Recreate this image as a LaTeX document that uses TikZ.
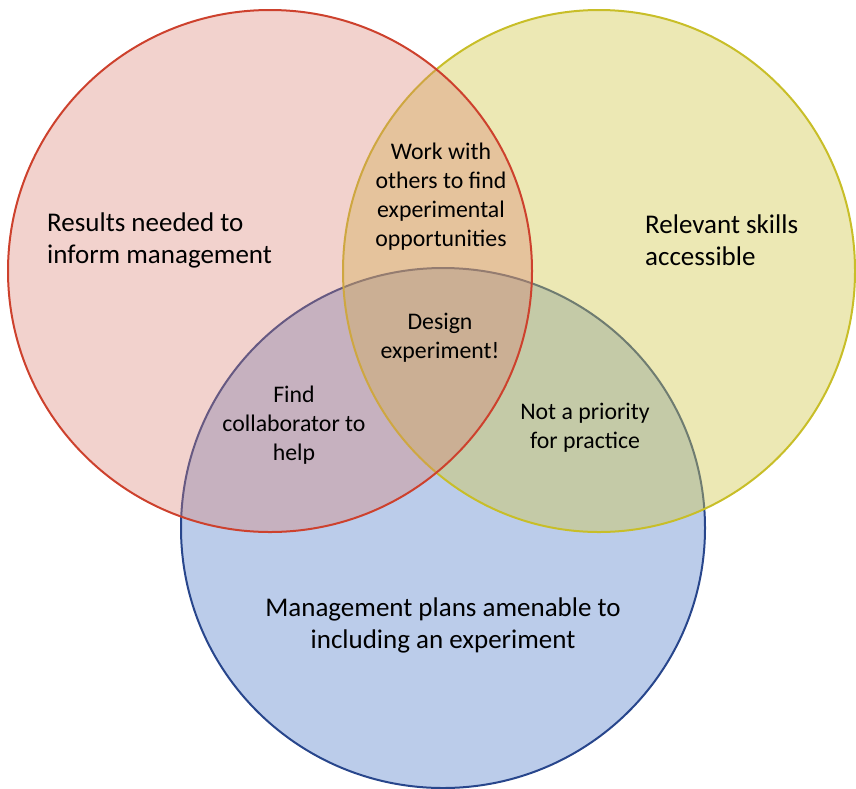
\documentclass[tikz,border=0pt]{standalone}
\usepackage{fontspec}
\setmainfont{Carlito}
\definecolor{redfill}{RGB}{218,126,112}
\definecolor{redline}{RGB}{205,65,45}
\definecolor{yellowfill}{RGB}{210,200,76}
\definecolor{yellowline}{RGB}{200,190,40}
\definecolor{bluefill}{RGB}{85,127,202}
\definecolor{blueline}{RGB}{40,70,140}
\tikzset{
  setshape/.style={line width=2pt},
  biglabel/.style={font=\fontsize{27}{32}\selectfont, inner sep=0pt},
  smalllabel/.style={font=\fontsize{23.8}{29}\selectfont, inner sep=0pt, align=center},
}
\begin{document}
\begin{tikzpicture}[x=1pt,y=-1pt]
\useasboundingbox (0,0) rectangle (856,788);
% the three sets, lowest first
\draw[setshape, fill opacity=0.4, draw=blueline, fill=bluefill] (443,528) ellipse [x radius=262pt, y radius=260pt];
\draw[setshape, fill opacity=0.42, draw=yellowline, fill=yellowfill] (599,271) ellipse [x radius=256pt, y radius=261pt];
\draw[setshape, fill opacity=0.35, draw=redline, fill=redfill] (270,271) ellipse [x radius=262pt, y radius=261pt];
% set labels
\node[biglabel, anchor=west, align=left] (results) at (47,240) {Results needed to\\inform management};
\node[biglabel, anchor=west, align=left] (skills) at (645,240) {Relevant skills\\accessible};
\node[biglabel, align=center] (plans) at (443,625) {Management plans amenable to\\including an experiment};
% overlap labels
\node[smalllabel] (work) at (441,197) {Work with\\others to find\\experimental\\opportunities};
\node[smalllabel] (design) at (440,338) {Design\\experiment!};
\node[smalllabel] (find) at (294,425) {Find\\collaborator to\\help};
\node[smalllabel] (notprio) at (585,428) {Not a priority\\for practice};
\end{tikzpicture}
\end{document}
